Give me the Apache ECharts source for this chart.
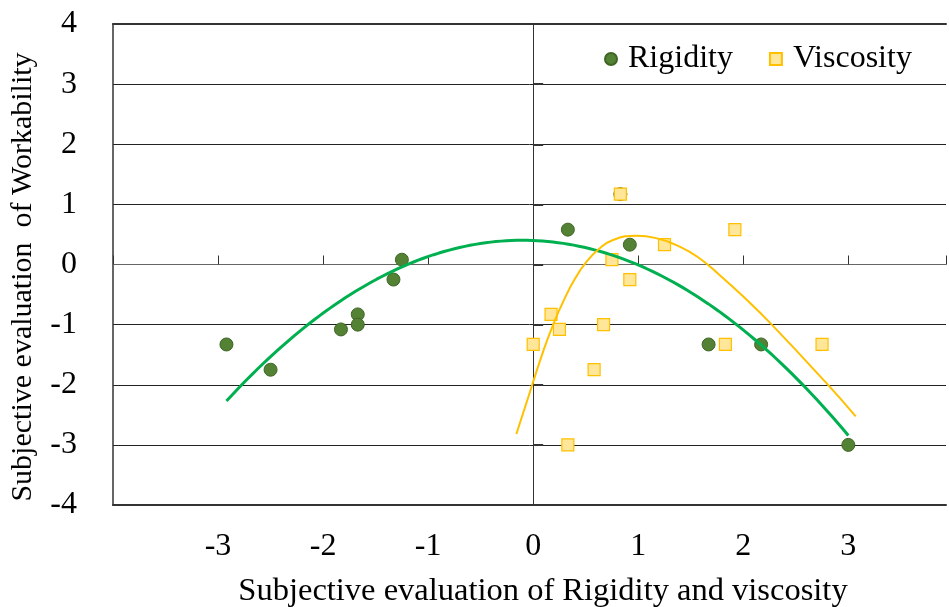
<!DOCTYPE html>
<html>
<head>
<meta charset="utf-8">
<script src="https://cdn.jsdelivr.net/npm/echarts@6/dist/echarts.min.js"></script>
<style>
  html, body { margin: 0; padding: 0; background: #fff; overflow: hidden; }
  #chart { width: 949px; height: 607px; }
</style>
</head>
<body>
<div id="chart"></div>
<script>
// Subjective ratings (averaged scores) of workability against rigidity / viscosity
const rigidityX = [-2.92, -2.50, -1.83, -1.67, -1.67, -1.33, -1.25, 0.33, 0.83, 0.92, 1.67, 2.17, 3.00];
const rigidityY = [-1.33, -1.75, -1.08, -0.83, -1.00, -0.25, 0.08, 0.58, 1.17, 0.33, -1.33, -1.33, -3.00];

const viscosityX = [0.83, 1.92, 1.25, 0.75, 0.92, 0.17, 0.25, 0.67, 0.00, 0.58, 1.83, 2.75, 0.33];
const viscosityY = [1.17, 0.58, 0.33, 0.08, -0.25, -0.83, -1.08, -1.00, -1.33, -1.75, -1.33, -1.33, -3.00];

// Rigidity: 2nd-order least-squares trendline over the data range
const rigidityTrendOrder = 2;

// Viscosity trendline, traced as points along the published curve
const viscosityTrendX = [-0.16, -0.04, 0.10, 0.195, 0.29, 0.40, 0.51, 0.62, 0.75, 0.985, 1.19, 1.38, 1.57, 1.79, 2.01, 2.26, 2.79, 3.07];
const viscosityTrendY = [-2.82, -2.17, -1.42, -0.98, -0.60, -0.23, 0.05, 0.25, 0.40, 0.48, 0.43, 0.31, 0.12, -0.20, -0.55, -0.98, -1.97, -2.525];

const xMin = -4;
const xMax = 3.93;   // plot area is cut at the right edge
const yMin = -4;
const yMax = 4;
const step = 1;
const xTickLabels = [-3, -2, -1, 0, 1, 2, 3];

// Least-squares polynomial fit (normal equations + Gauss-Jordan elimination)
function polyfit(xs, ys, order) {
  const n = order + 1;
  const A = [];
  for (let r = 0; r < n; r++) {
    const row = [];
    for (let c = 0; c < n; c++) {
      let s = 0;
      for (let i = 0; i < xs.length; i++) s += Math.pow(xs[i], r + c);
      row.push(s);
    }
    let b = 0;
    for (let i = 0; i < xs.length; i++) b += ys[i] * Math.pow(xs[i], r);
    row.push(b);
    A.push(row);
  }
  for (let p = 0; p < n; p++) {
    let best = p;
    for (let r = p + 1; r < n; r++) if (Math.abs(A[r][p]) > Math.abs(A[best][p])) best = r;
    [A[p], A[best]] = [A[best], A[p]];
    for (let r = 0; r < n; r++) {
      if (r === p) continue;
      const f = A[r][p] / A[p][p];
      for (let c = p; c <= n; c++) A[r][c] -= f * A[p][c];
    }
  }
  return A.map((row, i) => row[n] / row[i]);
}

function fittedCurve(xs, ys, order) {
  const coef = polyfit(xs, ys, order);
  const lo = Math.min(...xs);
  const hi = Math.max(...xs);
  const steps = 120;
  const pts = [];
  for (let i = 0; i <= steps; i++) {
    const x = lo + (hi - lo) * i / steps;
    let y = 0;
    for (let k = 0; k < coef.length; k++) y += coef[k] * Math.pow(x, k);
    pts.push([x, y]);
  }
  return pts;
}

const zip = (xs, ys) => xs.map((x, i) => [x, ys[i]]);

const FONT = '"Liberation Serif", "Times New Roman", serif';
const AXIS_COLOR = '#333';

const chart = echarts.init(document.getElementById('chart'), null, { renderer: 'canvas' });

chart.setOption({
  animation: false,
  backgroundColor: '#fff',
  textStyle: { fontFamily: FONT },
  grid: { left: 113, top: 24, right: 0, bottom: 102 },
  legend: {
    data: ['Rigidity', 'Viscosity'],
    left: 604, top: 43, padding: 0,
    itemWidth: 12, itemHeight: 12, itemGap: 36,
    textStyle: { fontFamily: FONT, fontSize: 32, color: '#000', padding: [0, 0, 0, 6] }
  },
  xAxis: [
    {
      // bottom frame + tick labels
      type: 'value', min: xMin, max: xMax, interval: step, position: 'bottom',
      axisLine: { show: true, onZero: false, lineStyle: { color: AXIS_COLOR, width: 2 } },
      axisTick: { show: false },
      splitLine: { show: false },
      axisLabel: {
        fontFamily: FONT, fontSize: 32, color: '#000', margin: 26,
        formatter: v => xTickLabels.indexOf(v) >= 0 ? String(v) : ''
      }
    },
    {
      // horizontal axis crossing at y = 0, ticks pointing up
      type: 'value', min: xMin, max: xMax, interval: step, position: 'bottom',
      axisLine: { show: true, onZero: true, lineStyle: { color: '#666', width: 1 } },
      axisTick: { show: true, inside: true, length: 9, lineStyle: { color: AXIS_COLOR, width: 1 } },
      axisLabel: { show: false },
      splitLine: { show: false }
    },
    {
      // top frame
      type: 'value', min: xMin, max: xMax, interval: step, position: 'top',
      axisLine: { show: true, onZero: false, lineStyle: { color: AXIS_COLOR, width: 2 } },
      axisTick: { show: false },
      axisLabel: { show: false },
      splitLine: { show: false }
    }
  ],
  yAxis: [
    {
      // left frame, gridlines and tick labels
      type: 'value', min: yMin, max: yMax, interval: step, position: 'left',
      axisLine: { show: true, onZero: false, lineStyle: { color: AXIS_COLOR, width: 1.5 } },
      axisTick: { show: false },
      splitLine: { show: true, lineStyle: { color: '#222', width: 1 } },
      axisLabel: { fontFamily: FONT, fontSize: 32, color: '#000', margin: 36 }
    },
    {
      // vertical axis crossing at x = 0, ticks pointing right
      type: 'value', min: yMin, max: yMax, interval: step, position: 'left',
      axisLine: { show: true, onZero: true, lineStyle: { color: AXIS_COLOR, width: 1 } },
      axisTick: { show: true, inside: true, length: 10, lineStyle: { color: AXIS_COLOR, width: 2 } },
      axisLabel: { show: false },
      splitLine: { show: false }
    }
  ],
  graphic: [
    {
      type: 'text', x: 543, y: 591,
      style: {
        text: 'Subjective evaluation of Rigidity and viscosity',
        font: '32.5px ' + FONT, fill: '#000',
        textAlign: 'center', textVerticalAlign: 'middle', align: 'center', verticalAlign: 'middle'
      }
    },
    {
      type: 'text', x: 23, y: 277, rotation: Math.PI / 2,
      style: {
        text: 'Subjective evaluation  of Workability',
        font: '30px ' + FONT, fill: '#000',
        textAlign: 'center', textVerticalAlign: 'middle', align: 'center', verticalAlign: 'middle'
      }
    }
  ],
  series: [
    {
      name: 'Rigidity', type: 'scatter', xAxisIndex: 0, yAxisIndex: 0,
      symbol: 'circle', symbolSize: 13, z: 3,
      itemStyle: { color: '#548235', borderColor: '#3f6526', borderWidth: 1, opacity: 1 },
      data: zip(rigidityX, rigidityY)
    },
    {
      name: 'Viscosity', type: 'scatter', xAxisIndex: 0, yAxisIndex: 0,
      symbol: 'rect', symbolSize: 12, z: 4,
      itemStyle: { color: '#ffe699', borderColor: '#ffc000', borderWidth: 1.2, opacity: 1 },
      data: zip(viscosityX, viscosityY)
    },
    {
      name: 'Rigidity trend', type: 'line', xAxisIndex: 0, yAxisIndex: 0,
      showSymbol: false, symbol: 'none', z: 5, silent: true,
      lineStyle: { color: '#00b050', width: 3 },
      data: fittedCurve(rigidityX, rigidityY, rigidityTrendOrder)
    },
    {
      name: 'Viscosity trend', type: 'line', xAxisIndex: 0, yAxisIndex: 0,
      showSymbol: false, symbol: 'none', z: 5, silent: true, smooth: 0.5,
      lineStyle: { color: '#ffc000', width: 2 },
      data: zip(viscosityTrendX, viscosityTrendY)
    }
  ]
});
</script>
</body>
</html>
